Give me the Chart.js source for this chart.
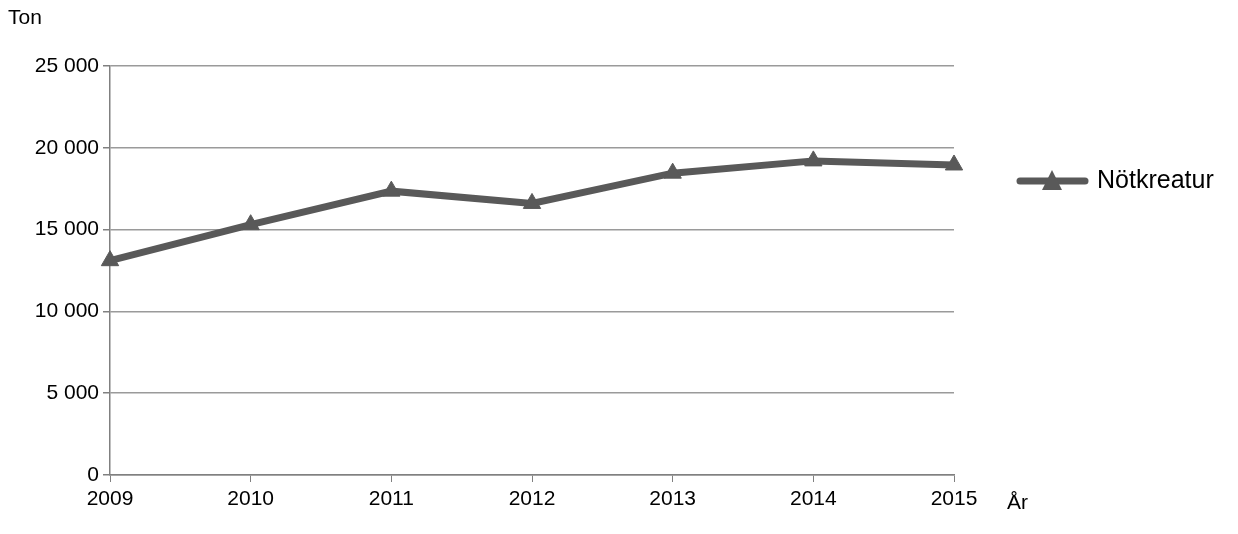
<!DOCTYPE html>
<html><head><meta charset="utf-8">
<script src="https://cdn.jsdelivr.net/npm/chart.js@4/dist/chart.umd.min.js"></script>
<style>html,body{margin:0;padding:0;background:#fff}#w{position:relative;width:1238px;height:534px}</style>
</head><body><div id="w"><canvas id="c" width="1238" height="534"></canvas></div>
<script>
const years = ["2009","2010","2011","2012","2013","2014","2015"];
const notkreatur = [13100,15300,17350,16600,18450,19200,18950];
const seriesName = "Nötkreatur";
const yTitle = "Ton", xTitle = "År";
const FONT = "'Liberation Sans', Arial, sans-serif";
const fmt = v => String(v).replace(/\B(?=(\d{3})+(?!\d))/g, " ");
const extra = {
  id:'extra',
  afterDraw(ch){
    const c=ch.ctx; c.save(); c.fillStyle='#000'; c.font='21px '+FONT;
    c.textBaseline='middle'; c.textAlign='left';
    c.fillText(yTitle,8,18);
    c.fillText(xTitle,1007,503);
    const y=181;
    c.strokeStyle='#595959'; c.lineWidth=7; c.lineCap='round';
    c.beginPath(); c.moveTo(1020,y); c.lineTo(1085,y); c.stroke();
    c.fillStyle='#595959'; c.beginPath(); c.moveTo(1052,y-11); c.lineTo(1062,y+9); c.lineTo(1042,y+9); c.closePath(); c.fill();
    c.fillStyle='#000'; c.font='25px '+FONT; c.fillText(seriesName,1097,y);
    c.restore();
  }
};
new Chart(document.getElementById('c'),{
  type:'line',
  data:{labels:years,datasets:[{label:seriesName,data:notkreatur,borderColor:'#595959',backgroundColor:'#595959',borderWidth:7,
    pointStyle:'triangle',pointRadius:10,pointHoverRadius:10,pointBackgroundColor:'#595959',pointBorderColor:'#595959',pointBorderWidth:1,tension:0}]},
  options:{responsive:false,animation:false,
    layout:{padding:{left:0,right:284,top:66,bottom:0}},
    plugins:{legend:{display:false},tooltip:{enabled:false}},
    scales:{
      x:{offset:false,grid:{display:true,drawOnChartArea:false,color:'#808080',tickLength:7,tickColor:'#808080'},
        border:{color:'#808080',width:1.5},
        ticks:{color:'#000',font:{size:21,family:FONT},padding:5,maxRotation:0},
        afterFit:s=>{s.height=59;}},
      y:{min:0,max:25000,grid:{color:'#9a9a9a',lineWidth:1.5,tickLength:7,tickColor:'#808080'},
        border:{color:'#808080',width:1.5},
        ticks:{stepSize:5000,color:'#000',font:{size:21,family:FONT},padding:4,callback:v=>fmt(v)},
        afterFit:s=>{s.width=110;}}
    }},
  plugins:[extra]
});
</script></body></html>
